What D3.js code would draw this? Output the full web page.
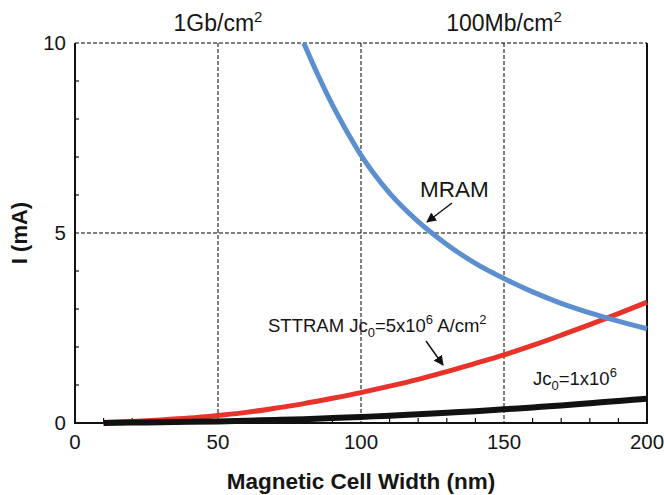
<!DOCTYPE html>
<html><head><meta charset="utf-8">
<script src="https://cdn.jsdelivr.net/npm/d3@7"></script>
<style>
body{margin:0;background:#fff;}
text{font-family:"Liberation Sans",Arial,Helvetica,sans-serif;fill:#151515;}
</style></head>
<body><svg id="c" width="664" height="495"></svg>
<script>
// Data
const mramX = [80, 85, 90, 95, 100, 110, 120, 130, 140, 150, 160, 170, 180, 190, 200];
const mramY = [10, 9.15, 8.37, 7.68, 7.05, 6.05, 5.3, 4.7, 4.2, 3.8, 3.45, 3.15, 2.9, 2.68, 2.48];
const sttX = [10, 20, 30, 40, 50, 60, 70, 80, 90, 100, 110, 120, 130, 140, 150, 160, 170, 180, 190, 200];
const stt5Y = [0.01, 0.04, 0.08, 0.13, 0.2, 0.28, 0.39, 0.51, 0.65, 0.8, 0.97, 1.15, 1.35, 1.57, 1.79, 2.04, 2.31, 2.59, 2.88, 3.18];
const stt1Y = [0.0, 0.01, 0.02, 0.03, 0.04, 0.06, 0.08, 0.1, 0.13, 0.16, 0.19, 0.23, 0.27, 0.31, 0.36, 0.41, 0.46, 0.52, 0.58, 0.64];
const xTicks = [0, 50, 100, 150, 200];
const yTicks = [0, 5, 10];
const xMinor = [10,20,30,40,60,70,80,90,110,120,130,140,160,170,180,190];
const yMinor = [1,2,3,4,6,7,8,9];
const xGrid = [50, 100, 150];
const yGrid = [5, 10];
const topLabels = [{x:50, t:"1Gb/cm", s:"2"}, {x:150, t:"100Mb/cm", s:"2"}];

const svg = d3.select("#c");
const L = 75, R = 647, T = 43, B = 423;
const x = d3.scaleLinear().domain([0,200]).range([L,R]);
const y = d3.scaleLinear().domain([0,10]).range([B,T]);

// grid
svg.selectAll(".gx").data(xGrid).enter().append("line")
  .attr("x1",d=>x(d)).attr("x2",d=>x(d)).attr("y1",T).attr("y2",B)
  .attr("stroke","#000").attr("stroke-width",1).attr("stroke-dasharray","4,2");
svg.selectAll(".gy").data(yGrid).enter().append("line")
  .attr("x1",L).attr("x2",R).attr("y1",d=>y(d)).attr("y2",d=>y(d))
  .attr("stroke","#000").attr("stroke-width",1).attr("stroke-dasharray","4,2");

// axes lines
const ax = svg.append("g");
ax.append("line").attr("x1",L).attr("x2",L).attr("y1",T).attr("y2",B+1).attr("stroke","#111").attr("stroke-width",2);
ax.append("line").attr("x1",R).attr("x2",R).attr("y1",T).attr("y2",B+1).attr("stroke","#111").attr("stroke-width",2);
ax.append("line").attr("x1",L-1).attr("x2",R+1).attr("y1",B).attr("y2",B).attr("stroke","#111").attr("stroke-width",2);

// minor ticks
ax.selectAll(".mx").data(xMinor).enter().append("line")
  .attr("x1",d=>x(d)).attr("x2",d=>x(d)).attr("y1",B).attr("y2",B-5)
  .attr("stroke","#111").attr("stroke-width",1.2);
ax.selectAll(".my").data(yMinor).enter().append("line")
  .attr("x1",L).attr("x2",L+4).attr("y1",d=>y(d)).attr("y2",d=>y(d))
  .attr("stroke","#111").attr("stroke-width",1.2);

// tick labels
svg.selectAll(".xl").data(xTicks).enter().append("text")
  .attr("x",d=>x(d)).attr("y",449).attr("text-anchor","middle")
  .style("font-size","20.5px").text(d=>d);
svg.selectAll(".yl").data(yTicks).enter().append("text")
  .attr("x",L-9).attr("y",d=>y(d)+7).attr("text-anchor","end")
  .style("font-size","20.5px").text(d=>d);

// top labels
topLabels.forEach(d=>{
  const t = svg.append("text").attr("x",x(d.x)).attr("y",31).attr("text-anchor","middle").style("font-size","23px");
  t.append("tspan").text(d.t);
  t.append("tspan").attr("dy",-9).style("font-size","15px").text(d.s);
});

// axis titles
svg.append("text").attr("x",361).attr("y",489).attr("text-anchor","middle")
  .style("font-size","22.5px").style("font-weight","bold").text("Magnetic Cell Width (nm)");
svg.append("text").attr("transform","translate(27,233) rotate(-90)").attr("text-anchor","middle")
  .style("font-size","22px").style("font-weight","bold").text("I (mA)");

// lines
const line = d3.line().x(d=>x(d[0])).y(d=>y(d[1])).curve(d3.curveMonotoneX);
svg.append("path").datum(sttX.map((v,i)=>[v,stt5Y[i]])).attr("d",line)
  .attr("fill","none").attr("stroke","#e8332a").attr("stroke-width",5);
svg.append("path").datum(sttX.map((v,i)=>[v,stt1Y[i]])).attr("d",line)
  .attr("fill","none").attr("stroke","#111").attr("stroke-width",6);
svg.append("path").datum(mramX.map((v,i)=>[v,mramY[i]])).attr("d",line)
  .attr("fill","none").attr("stroke","#5b8fd0").attr("stroke-width",5);

// annotations
svg.append("defs").append("marker").attr("id","ah").attr("viewBox","0 0 10 10")
  .attr("refX",9).attr("refY",5).attr("markerWidth",10).attr("markerHeight",10)
  .attr("markerUnits","userSpaceOnUse").attr("orient","auto")
  .append("path").attr("d","M0,0 L10,5 L0,10 Z").attr("fill","#111");

svg.append("text").attr("x",420).attr("y",197).style("font-size","22.5px").text("MRAM");
svg.append("line").attr("x1",452).attr("y1",203).attr("x2",427).attr("y2",222)
  .attr("stroke","#111").attr("stroke-width",1.5).attr("marker-end","url(#ah)");

const s1 = svg.append("text").attr("x",268).attr("y",332).style("font-size","18.5px");
s1.append("tspan").text("STTRAM Jc");
s1.append("tspan").attr("dy",5).style("font-size","13px").text("0");
s1.append("tspan").attr("dy",-5).text("=5x10");
s1.append("tspan").attr("dy",-8).style("font-size","13px").text("6");
s1.append("tspan").attr("dy",8).text(" A/cm");
s1.append("tspan").attr("dy",-8).style("font-size","13px").text("2");
svg.append("line").attr("x1",426).attr("y1",341).attr("x2",443).attr("y2",365)
  .attr("stroke","#111").attr("stroke-width",1.5).attr("marker-end","url(#ah)");

const s2 = svg.append("text").attr("x",533).attr("y",385).style("font-size","18.5px");
s2.append("tspan").text("Jc");
s2.append("tspan").attr("dy",5).style("font-size","13px").text("0");
s2.append("tspan").attr("dy",-5).text("=1x10");
s2.append("tspan").attr("dy",-8).style("font-size","13px").text("6");
</script></body></html>
